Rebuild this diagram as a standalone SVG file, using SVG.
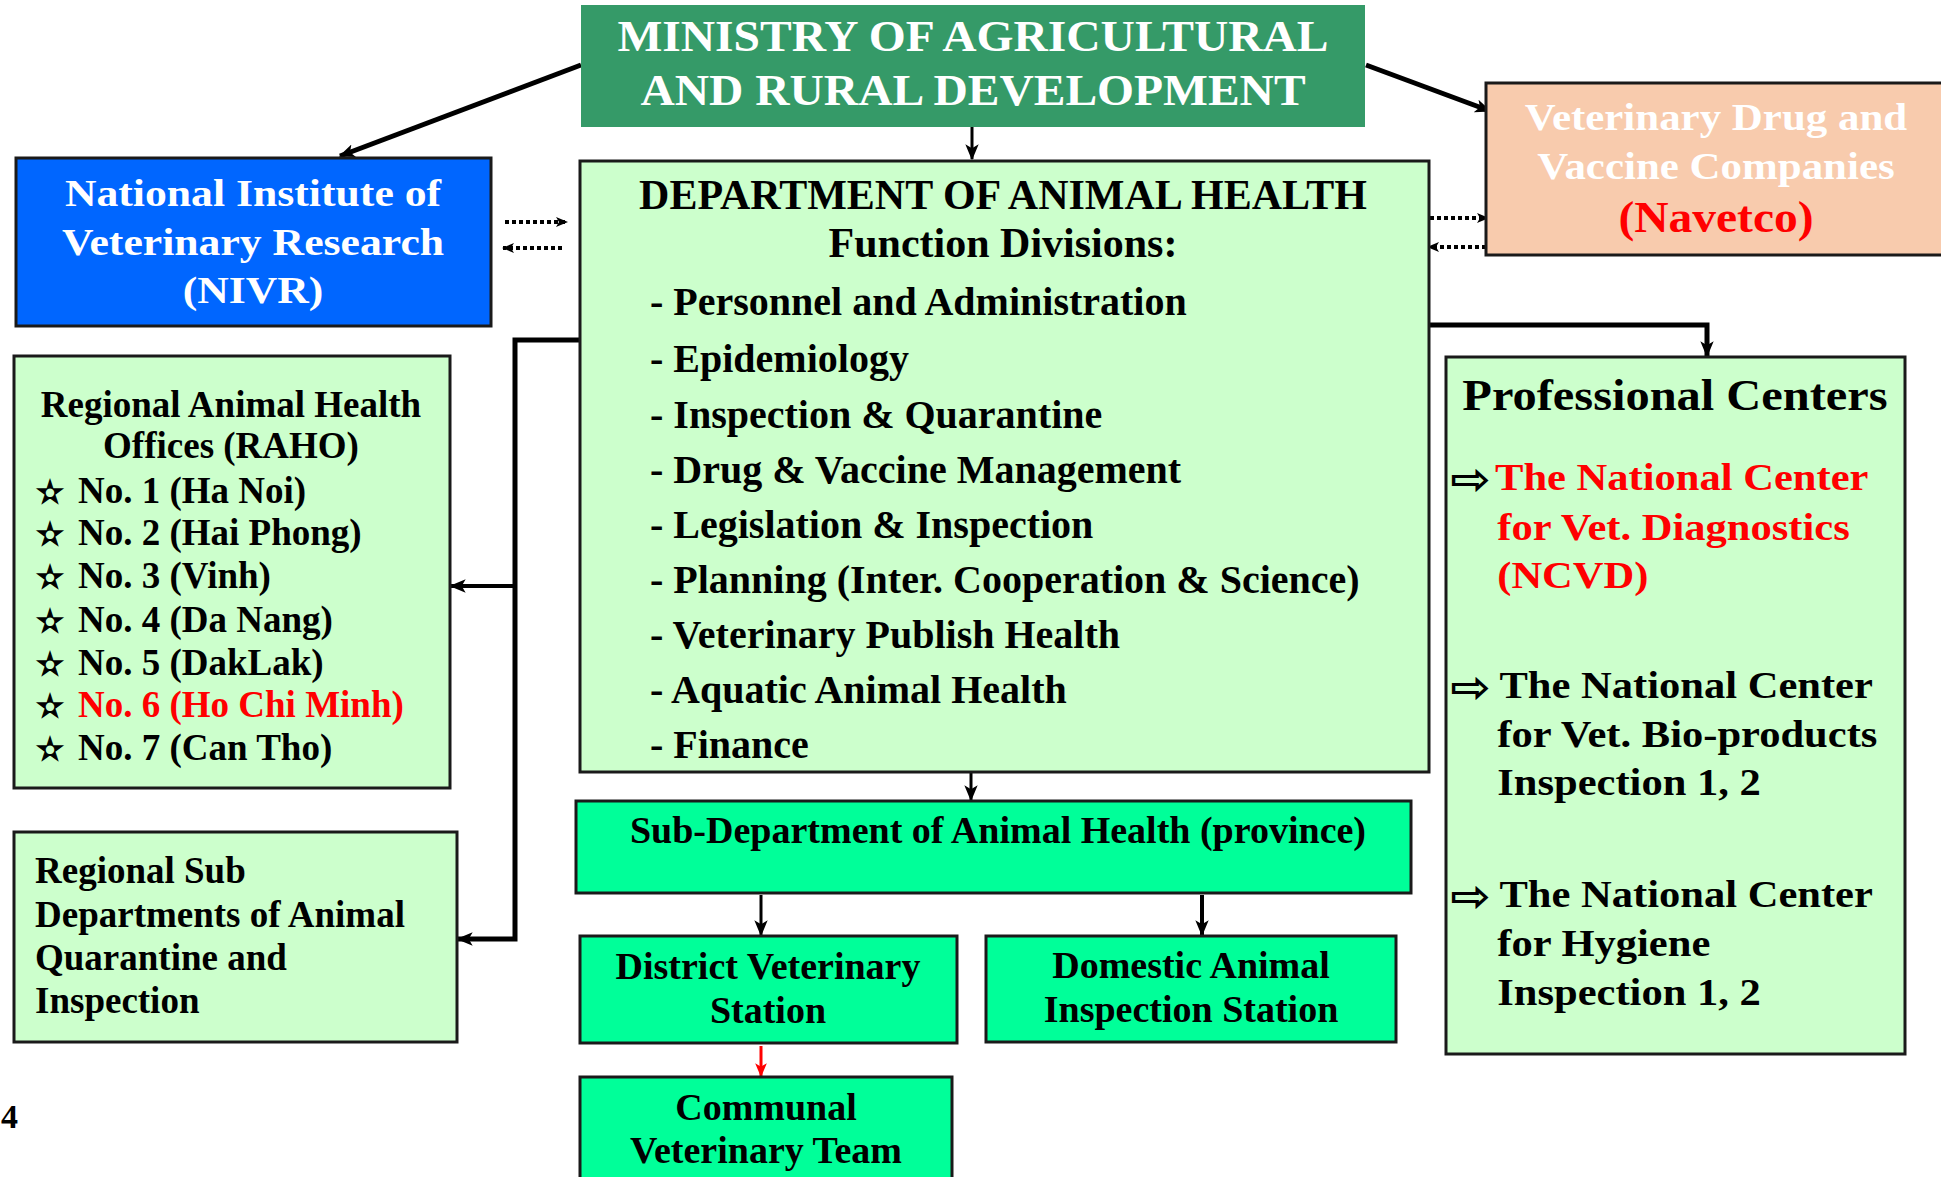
<svg xmlns="http://www.w3.org/2000/svg" width="1941" height="1177" viewBox="0 0 1941 1177">
<style>
text{font-family:"Liberation Serif","Times New Roman",serif;font-weight:bold;}
.box{stroke:#1a1a1a;stroke-width:3;}
.lg{fill:#CCFFCC;}
.bg{fill:#00FF99;}
.w{fill:#ffffff;}
.k{fill:#000000;}
.r{fill:#FF0000;}
.sym{font-family:"DejaVu Sans",sans-serif;font-weight:normal;stroke:#000;stroke-width:1.2;}
.arw{font-family:"DejaVu Sans",sans-serif;font-weight:bold;}
.c{stroke:#000;fill:none;}
</style>
<defs>
<marker id="ah" viewBox="0 0 12 12" refX="11" refY="6" markerWidth="16" markerHeight="16" markerUnits="userSpaceOnUse" orient="auto">
<path d="M0,1 L12,6 L0,11 L3,6 z" fill="#000"/>
</marker>
<marker id="ahs" viewBox="0 0 12 12" refX="11" refY="6" markerWidth="12" markerHeight="12" markerUnits="userSpaceOnUse" orient="auto">
<path d="M0,1 L12,6 L0,11 L3,6 z" fill="#000"/>
</marker>
<marker id="ahr" viewBox="0 0 12 12" refX="11" refY="6" markerWidth="14" markerHeight="14" markerUnits="userSpaceOnUse" orient="auto">
<path d="M0,1 L12,6 L0,11 L3,6 z" fill="#FF0000"/>
</marker>
</defs>
<rect width="1941" height="1177" fill="#ffffff"/>

<g id="connectors">
<line class="c" x1="581" y1="65" x2="340" y2="156" stroke-width="5" marker-end="url(#ah)"/>
<line class="c" x1="1366" y1="65" x2="1490" y2="111" stroke-width="5" marker-end="url(#ah)"/>
<line class="c" x1="972" y1="127" x2="972" y2="159" stroke-width="3" marker-end="url(#ah)"/>
<line class="c" x1="505" y1="222" x2="567" y2="222" stroke-width="4" stroke-dasharray="4 3" marker-end="url(#ahs)"/>
<line class="c" x1="562" y1="248" x2="503" y2="248" stroke-width="4" stroke-dasharray="4 3" marker-end="url(#ahs)"/>
<line class="c" x1="1430" y1="218" x2="1488" y2="218" stroke-width="4" stroke-dasharray="4 3" marker-end="url(#ahs)"/>
<line class="c" x1="1486" y1="247" x2="1428" y2="247" stroke-width="4" stroke-dasharray="4 3" marker-end="url(#ahs)"/>
<path class="c" d="M1429,325 H1707 V356" stroke-width="5" marker-end="url(#ah)"/>
<path class="c" d="M580,340 H515 V939 H458" stroke-width="5" marker-end="url(#ah)"/>
<line class="c" x1="515" y1="586" x2="451" y2="586" stroke-width="4" marker-end="url(#ah)"/>
<line class="c" x1="971" y1="772" x2="971" y2="800" stroke-width="3" marker-end="url(#ah)"/>
<line class="c" x1="761" y1="895" x2="761" y2="935" stroke-width="3" marker-end="url(#ah)"/>
<line class="c" x1="1202" y1="895" x2="1202" y2="935" stroke-width="4" marker-end="url(#ah)"/>
<line x1="761" y1="1046" x2="761" y2="1076" stroke="#FF0000" stroke-width="3" marker-end="url(#ahr)"/>
</g>

<g id="ministry">
<rect x="581" y="5" width="784" height="122" fill="#359A68"/>
<g transform="translate(973,0) scale(1.08,1)">
<text class="w" x="0" y="51" font-size="44" text-anchor="middle">MINISTRY OF AGRICULTURAL</text>
<text class="w" x="0" y="105" font-size="44" text-anchor="middle">AND RURAL DEVELOPMENT</text>
</g>
</g>

<g id="nivr">
<rect class="box" x="16" y="158" width="475" height="168" fill="#0066FF"/>
<g transform="translate(253,0) scale(1.15,1)">
<text class="w" x="0" y="206" font-size="38" text-anchor="middle">National Institute of</text>
<text class="w" x="0" y="255" font-size="38" text-anchor="middle">Veterinary Research</text>
<text class="w" x="0" y="303" font-size="38" text-anchor="middle">(NIVR)</text>
</g>
</g>

<g id="navetco">
<rect class="box" x="1486" y="83" width="460" height="172" fill="#F8CBAD"/>
<g transform="translate(1716,0) scale(1.13,1)">
<text class="w" x="0" y="130" font-size="38" text-anchor="middle">Veterinary Drug and</text>
<text class="w" x="0" y="179" font-size="38" text-anchor="middle">Vaccine Companies</text>
</g>
<g transform="translate(1716,0) scale(1.08,1)">
<text class="r" x="0" y="232" font-size="44" text-anchor="middle">(Navetco)</text>
</g>
</g>

<g id="department">
<rect class="box lg" x="580" y="161" width="849" height="611"/>
<text class="k" x="1003" y="209" font-size="42" text-anchor="middle">DEPARTMENT OF ANIMAL HEALTH</text>
<text class="k" x="1003" y="257" font-size="42" text-anchor="middle">Function Divisions:</text>
<g font-size="40">
<text class="k" x="650" y="315">- Personnel and Administration</text>
<text class="k" x="650" y="372">- Epidemiology</text>
<text class="k" x="650" y="428">- Inspection &amp; Quarantine</text>
<text class="k" x="650" y="483">- Drug &amp; Vaccine Management</text>
<text class="k" x="650" y="538">- Legislation &amp; Inspection</text>
<text class="k" x="650" y="593">- Planning (Inter. Cooperation &amp; Science)</text>
<text class="k" x="650" y="648">- Veterinary Publish Health</text>
<text class="k" x="650" y="703">- Aquatic Animal Health</text>
<text class="k" x="650" y="758">- Finance</text>
</g>
</g>

<g id="raho">
<rect class="box lg" x="14" y="356" width="436" height="432"/>
<text class="k" x="231" y="417" font-size="37" text-anchor="middle">Regional Animal Health</text>
<text class="k" x="231" y="458" font-size="37" text-anchor="middle">Offices (RAHO)</text>
<g font-size="31">
<text class="k sym" x="37" y="503">✫</text>
<text class="k sym" x="37" y="545">✫</text>
<text class="k sym" x="37" y="588">✫</text>
<text class="k sym" x="37" y="632">✫</text>
<text class="k sym" x="37" y="675">✫</text>
<text class="k sym" x="37" y="717">✫</text>
<text class="k sym" x="37" y="760">✫</text>
</g>
<g font-size="37">
<text class="k" x="78" y="503">No. 1 (Ha Noi)</text>
<text class="k" x="78" y="545">No. 2 (Hai Phong)</text>
<text class="k" x="78" y="588">No. 3 (Vinh)</text>
<text class="k" x="78" y="632">No. 4 (Da Nang)</text>
<text class="k" x="78" y="675">No. 5 (DakLak)</text>
<text class="r" x="78" y="717">No. 6 (Ho Chi Minh)</text>
<text class="k" x="78" y="760">No. 7 (Can Tho)</text>
</g>
</g>

<g id="regional-sub">
<rect class="box lg" x="14" y="832" width="443" height="210"/>
<g font-size="37">
<text class="k" x="35" y="883">Regional Sub</text>
<text class="k" x="35" y="927">Departments of Animal</text>
<text class="k" x="35" y="970">Quarantine and</text>
<text class="k" x="35" y="1013">Inspection</text>
</g>
</g>

<g id="professional-centers">
<rect class="box lg" x="1446" y="357" width="459" height="697"/>
<g transform="translate(1675,0) scale(1.076,1)">
<text class="k" x="0" y="410" font-size="45" text-anchor="middle">Professional Centers</text>
</g>
<g transform="translate(1450,0) scale(1.1,1)" font-size="44">
<text class="k arw" x="0" y="494">⇨</text>
<text class="k arw" x="0" y="702">⇨</text>
<text class="k arw" x="0" y="911">⇨</text>
</g>
<g transform="translate(1495,0) scale(1.12,1)" font-size="38">
<text class="r" x="0" y="490">The National Center</text>
<text class="r" x="2" y="540">for Vet. Diagnostics</text>
<text class="r" x="2" y="588">(NCVD)</text>
<text class="k" x="4" y="698">The National Center</text>
<text class="k" x="2" y="747">for Vet. Bio-products</text>
<text class="k" x="2" y="795">Inspection 1, 2</text>
<text class="k" x="4" y="907">The National Center</text>
<text class="k" x="2" y="956">for Hygiene</text>
<text class="k" x="2" y="1005">Inspection 1, 2</text>
</g>
</g>

<g id="sub-department">
<rect class="box bg" x="576" y="801" width="835" height="92"/>
<text class="k" x="998" y="843" font-size="38" text-anchor="middle">Sub-Department of Animal Health (province)</text>
</g>

<g id="district">
<rect class="box bg" x="580" y="936" width="377" height="107"/>
<text class="k" x="768" y="979" font-size="38" text-anchor="middle">District Veterinary</text>
<text class="k" x="768" y="1023" font-size="38" text-anchor="middle">Station</text>
</g>

<g id="domestic">
<rect class="box bg" x="986" y="936" width="410" height="106"/>
<text class="k" x="1191" y="978" font-size="38" text-anchor="middle">Domestic Animal</text>
<text class="k" x="1191" y="1022" font-size="38" text-anchor="middle">Inspection Station</text>
</g>

<g id="communal">
<rect class="box bg" x="580" y="1077" width="372" height="110"/>
<text class="k" x="766" y="1120" font-size="38" text-anchor="middle">Communal</text>
<text class="k" x="766" y="1163" font-size="38" text-anchor="middle">Veterinary Team</text>
</g>

<text class="k" x="1" y="1128" font-size="34">4</text>
</svg>
